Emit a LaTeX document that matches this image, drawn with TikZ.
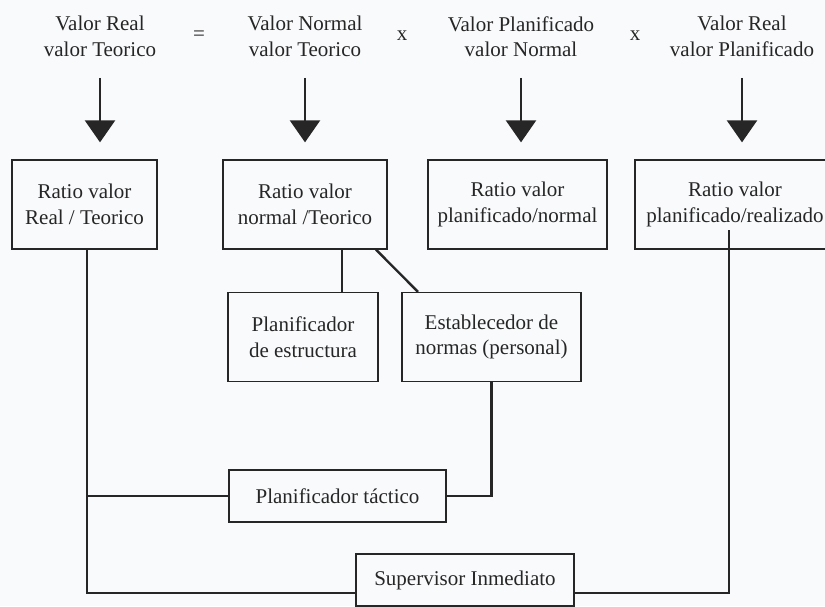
\documentclass[tikz,border=0pt]{standalone}
\usepackage{fontspec}
\setmainfont{Liberation Serif}
\usetikzlibrary{arrows.meta}
\definecolor{ink}{HTML}{262626}
\definecolor{paper}{HTML}{F9FAFC}
\begin{document}
\begin{tikzpicture}[x=1pt,y=-1pt,
  every node/.style={text=ink, font=\fontsize{21}{25.5}\selectfont},
  box/.style={draw=ink, line width=1.3pt, fill=paper, inner sep=0pt, align=center},
  formula/.style={inner sep=0pt, align=center},
  oper/.style={inner sep=0pt},
  bigarrow/.style={draw=ink, line width=2.4pt, -{Triangle[width=30pt,length=22pt]}},
  link/.style={draw=ink, line width=2.4pt, line join=miter}
]
\clip (0,0) rectangle (825,606);
\fill[paper] (0,0) rectangle (825,606);

% ratio formula
\node[formula] (f1) at (100,36.5) {Valor Real\\valor Teorico};
\node[oper]    (eq) at (199,36) {=};
\node[formula] (f2) at (305,36.5) {Valor Normal\\valor Teorico};
\node[oper]    (x1) at (402,36) {x};
\node[formula] (f3) at (521,36.5) {Valor Planificado\\valor Normal};
\node[oper]    (x2) at (635,36) {x};
\node[formula] (f4) at (742,36.5) {Valor Real\\valor Planificado};

% ratio boxes
\node[box, minimum width=145pt, minimum height=89pt] (b1) at (84.5,204.5) {Ratio valor\\Real / Teorico};
\node[box, minimum width=164pt, minimum height=89pt] (b2) at (305,204.5) {Ratio valor\\normal /Teorico};
\node[box, minimum width=179pt, minimum height=89pt] (b3) at (517.5,204.5) {Ratio valor\\planificado/normal};
\node[box, minimum width=200pt, minimum height=89pt] (b4) at (735,204.5) {Ratio valor\\planificado/realizado};

% responsible roles
\node[box, minimum width=150pt, minimum height=89pt] (b5) at (303,337) {Planificador\\de estructura};
\node[box, minimum width=179pt, minimum height=89pt] (b6) at (491.5,337) {Establecedor de\\normas (personal)};
\node[box, minimum width=217pt, minimum height=52pt] (b7) at (337.5,496) {Planificador táctico};
\node[box, minimum width=218pt, minimum height=52pt] (b8) at (465,580) {Supervisor Inmediato};

% arrows from each factor to its ratio
\foreach \f/\b in {f1/b1, f2/b2, f3/b3, f4/b4}
  \draw[bigarrow, shorten <=21pt, shorten >=17pt] (\f.south) -- (\f.south |- \b.north);

% junction points of the connectors
\coordinate (ja) at (87,496);
\coordinate (jb) at (87,593);
\coordinate (jc) at (729,593);
\coordinate (k4) at (729,230);
\coordinate (s5) at (342,0);
\coordinate (d2) at (376,0);
\coordinate (d6) at (418,0);

% connectors
\draw[link] (b2.south -| s5) -- (b5.north -| s5);
\draw[link] (b2.south -| d2) -- (b6.north -| d6);
\draw[link] (b1.south -| ja) -- (jb) -- (b8.west |- jb);
\draw[link] (ja) -- (b7.west);
\draw[link] (b7.east) -| (b6.south);
\draw[link] (b8.east |- jc) -- (jc) -- (k4);
\end{tikzpicture}
\end{document}
